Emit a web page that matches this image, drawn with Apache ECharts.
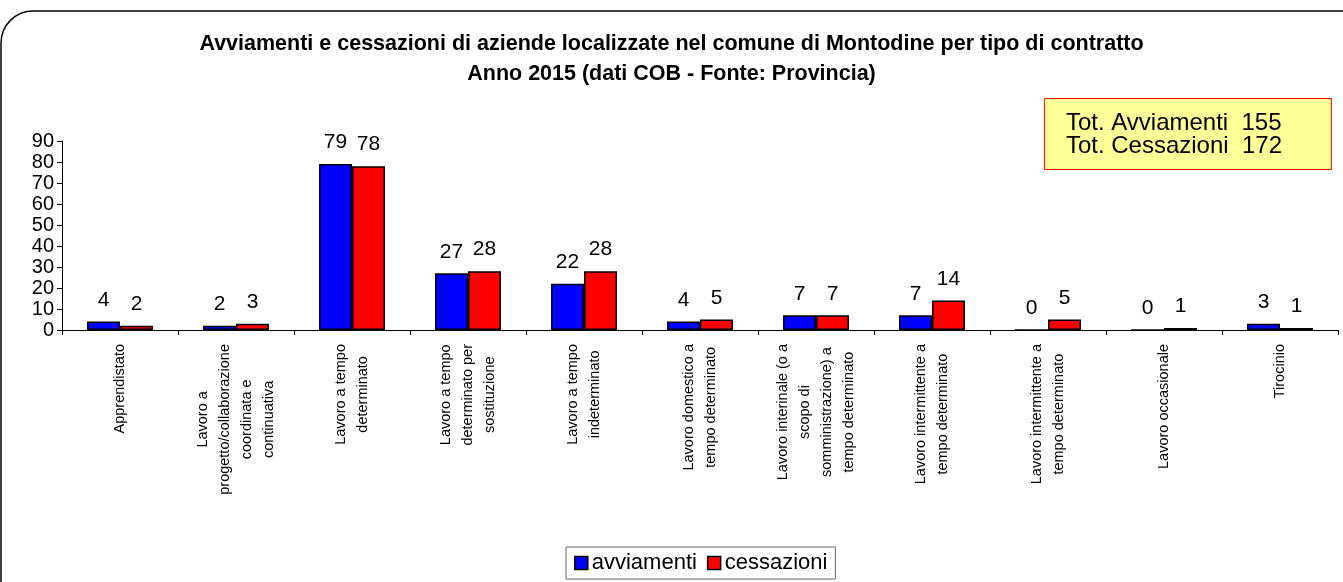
<!DOCTYPE html>
<html>
<head>
<meta charset="utf-8">
<script src="https://cdn.jsdelivr.net/npm/echarts@6/dist/echarts.min.js"></script>
<style>
html,body{margin:0;padding:0;background:#fff;}
#chart{width:1343px;height:582px;}
</style>
</head>
<body>
<div id="chart"></div>
<script>
var categories = [
  "Apprendistato",
  "Lavoro a\nprogetto/collaborazione\ncoordinata e\ncontinuativa",
  "Lavoro a tempo\ndeterminato",
  "Lavoro a tempo\ndeterminato per\nsostituzione",
  "Lavoro a tempo\nindeterminato",
  "Lavoro domestico a\ntempo determinato",
  "Lavoro interinale (o a\nscopo di\nsomministrazione) a\ntempo determinato",
  "Lavoro intermittente a\ntempo determinato",
  "Lavoro intermittente a\ntempo determinato",
  "Lavoro occasionale",
  "Tirocinio"
];
var avviamenti = [4, 2, 79, 27, 22, 4, 7, 7, 0, 0, 3];
var cessazioni = [2, 3, 78, 28, 28, 5, 7, 14, 5, 1, 1];
var seriesNames = ["avviamenti", "cessazioni"];
var yTicks = [0, 10, 20, 30, 40, 50, 60, 70, 80, 90];
var titleLines = [
  "Avviamenti e cessazioni di aziende localizzate nel comune di Montodine per tipo di contratto",
  "Anno 2015 (dati COB - Fonte: Provincia)"
];

function sum(a){ return a.reduce(function(s,v){return s+v;},0); }

var FONT = "'Liberation Sans', Arial, sans-serif";
var chart = echarts.init(document.getElementById('chart'), null, {renderer:'canvas'});

var labelStyle = {
  show: true, position: 'top', distance: 11,
  color: '#000', fontSize: 21, fontFamily: FONT
};

chart.setOption({
  animation: false,
  backgroundColor: '#fff',
  textStyle: { fontFamily: FONT, color: '#000' },
  title: [
    {
      text: titleLines.join('\n'),
      left: 'center', top: 24,
      textStyle: { fontSize: 21.5, fontWeight: 'bold', color: '#000', lineHeight: 30, fontFamily: FONT }
    },
    {
      text: 'Tot. Avviamenti  ' + sum(avviamenti) + '\nTot. Cessazioni  ' + sum(cessazioni),
      right: 11, top: 99,
      backgroundColor: '#ffff99',
      borderColor: '#ff0000', borderWidth: 1,
      padding: [13, 50, 11, 22],
      textStyle: { fontSize: 24, fontWeight: 'normal', color: '#000', lineHeight: 23, fontFamily: FONT }
    }
  ],
  graphic: [
    {
      type: 'rect', silent: true, z: -1,
      shape: { x: 1, y: 11, width: 1400, height: 700, r: 32 },
      style: { fill: 'none', stroke: '#000', lineWidth: 1.5 }
    }
  ],
  legend: {
    data: seriesNames,
    left: 566, top: 547,
    padding: [5, 8, 5, 8],
    itemGap: 10,
    itemWidth: 13, itemHeight: 13,
    borderColor: '#666', borderWidth: 1,
    icon: 'rect',
    itemStyle: { borderColor: '#000', borderWidth: 1.5 },
    textStyle: { fontSize: 22, color: '#000', fontFamily: FONT, padding: [0,0,0,-1] }
  },
  grid: { left: 62, right: 5, top: 141, bottom: 252, containLabel: false },
  xAxis: {
    type: 'category',
    data: categories,
    axisLine: { lineStyle: { color: '#000', width: 1 } },
    axisTick: { show: true, length: 5, interval: 0, lineStyle: { color: '#000' } },
    axisLabel: {
      interval: 0, rotate: 90, margin: 14,
      formatter: function (v) {
        return v.split('\n').map(function (l) { return '{c|' + l + '}'; }).join('\n');
      },
      rich: { c: { align: 'center', fontSize: 14.5, lineHeight: 22, color: '#000', fontFamily: FONT } }
    }
  },
  yAxis: {
    type: 'value',
    min: yTicks[0], max: yTicks[yTicks.length - 1], interval: yTicks[1] - yTicks[0],
    axisLine: { show: true, lineStyle: { color: '#000', width: 1 } },
    axisTick: { show: true, length: 5, lineStyle: { color: '#000' } },
    splitLine: { show: false },
    axisLabel: { fontSize: 20, color: '#000', margin: 8, fontFamily: FONT }
  },
  series: [
    {
      name: seriesNames[0], type: 'bar', data: avviamenti,
      barWidth: 33, barGap: '0%',
      itemStyle: { color: '#0000ff', borderColor: '#000', borderWidth: 1.5 },
      label: labelStyle
    },
    {
      name: seriesNames[1], type: 'bar', data: cessazioni,
      barWidth: 33,
      itemStyle: { color: '#ff0000', borderColor: '#000', borderWidth: 1.5 },
      label: labelStyle
    }
  ]
});
</script>
</body>
</html>
